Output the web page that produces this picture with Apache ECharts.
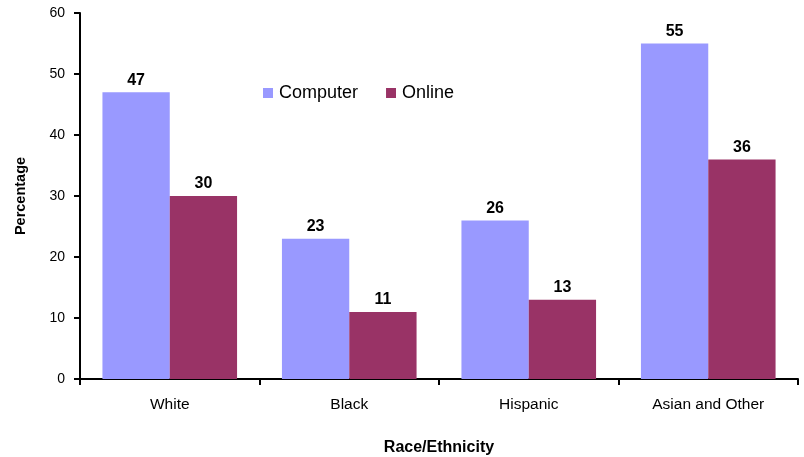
<!DOCTYPE html>
<html>
<head>
<meta charset="utf-8">
<script src="https://cdn.jsdelivr.net/npm/echarts@6/dist/echarts.min.js"></script>
<style>
  html, body { margin: 0; padding: 0; background: #fff; }
  #chart { width: 804px; height: 457px; }
</style>
</head>
<body>
<div id="chart"></div>
<script>
// Share of each group using a computer vs. going online (%)
const categories = ['White', 'Black', 'Hispanic', 'Asian and Other'];
const computerValues = [47, 23, 26, 55];
const onlineValues = [30, 11, 13, 36];
const yTicks = [0, 10, 20, 30, 40, 50, 60];

const FONT = '"Liberation Sans", Arial, sans-serif';
const chart = echarts.init(document.getElementById('chart'), null, { renderer: 'canvas' });

const labelStyle = {
  show: true,
  position: 'top',
  distance: 4,
  fontFamily: FONT,
  fontWeight: 'bold',
  fontSize: 16,
  color: '#000'
};

chart.setOption({
  animation: false,
  backgroundColor: '#fff',
  textStyle: { fontFamily: FONT },
  grid: {
    left: 80, right: 6, top: 13, bottom: 78,
    containLabel: false,
    outerBoundsMode: 'none'
  },
  legend: {
    left: 263,
    top: 84,
    padding: 0,
    itemWidth: 10,
    itemHeight: 10,
    itemGap: 28,
    icon: 'rect',
    textStyle: { fontFamily: FONT, fontSize: 18, color: '#000', padding: [0, 0, 0, 1] },
    data: ['Computer', 'Online']
  },
  xAxis: {
    type: 'category',
    data: categories,
    name: 'Race/Ethnicity',
    nameLocation: 'middle',
    nameGap: 61,
    nameTextStyle: { fontFamily: FONT, fontWeight: 'bold', fontSize: 16, color: '#000' },
    axisLine: { lineStyle: { color: '#000', width: 2 } },
    axisTick: { show: true, length: 6, lineStyle: { color: '#000', width: 2 } },
    axisLabel: { fontFamily: FONT, fontSize: 15.5, color: '#000', margin: 18 }
  },
  yAxis: {
    type: 'value',
    min: yTicks[0],
    max: yTicks[yTicks.length - 1],
    interval: yTicks[1] - yTicks[0],
    name: 'Percentage',
    nameLocation: 'middle',
    nameGap: 52,
    nameRotate: 90,
    nameTextStyle: { fontFamily: FONT, fontWeight: 'bold', fontSize: 14.5, color: '#000' },
    axisLine: { show: true, lineStyle: { color: '#000', width: 2 } },
    axisTick: { show: true, length: 6, lineStyle: { color: '#000', width: 2 } },
    axisLabel: { fontFamily: FONT, fontSize: 14, color: '#000', margin: 15 },
    splitLine: { show: false }
  },
  series: [
    {
      name: 'Computer',
      type: 'bar',
      data: computerValues,
      barGap: '0%',
      barCategoryGap: '25%',
      itemStyle: { color: '#9999FF' },
      label: labelStyle
    },
    {
      name: 'Online',
      type: 'bar',
      data: onlineValues,
      barGap: '0%',
      barCategoryGap: '25%',
      itemStyle: { color: '#993366' },
      label: labelStyle
    }
  ]
});
</script>
</body>
</html>
